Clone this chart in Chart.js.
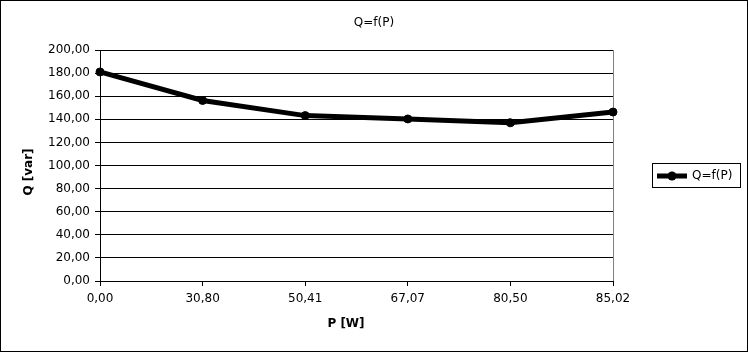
<!DOCTYPE html>
<html>
<head>
<meta charset="utf-8">
<title>Q=f(P)</title>
<script src="https://cdn.jsdelivr.net/npm/chart.js@4"></script>
<style>
    html, body { margin: 0; padding: 0; background: #ffffff; }
    #wrap { width: 748px; height: 352px; }
</style>
</head>
<body>
<div id="wrap"><canvas id="chart" width="748" height="352"></canvas></div>
<script>
// Data
const pLabels = ['0,00', '30,80', '50,41', '67,07', '80,50', '85,02'];
const qValues = [181.0, 156.3, 143.2, 140.3, 137.0, 146.3];
const seriesName = 'Q=f(P)';
const xTitle = 'P [W]';
const yTitle = 'Q [var]';

Chart.defaults.font.family = "'DejaVu Sans', sans-serif";
Chart.defaults.font.size = 12;
Chart.defaults.color = '#000000';

// Outer frame, titles and the boxed legend on the right
const framePlugin = {
    id: 'frame',
    afterDraw(chart) {
        const ctx = chart.ctx;
        ctx.save();
        ctx.strokeStyle = '#000000';
        ctx.fillStyle = '#000000';
        ctx.lineWidth = 1;
        ctx.strokeRect(0.5, 0.5, chart.width - 1, chart.height - 1);

        // chart title, centred on the whole picture
        ctx.textBaseline = 'middle';
        ctx.textAlign = 'center';
        ctx.font = "12px 'DejaVu Sans', sans-serif";
        ctx.fillText(seriesName, chart.width / 2, 23);

        // axis titles
        ctx.font = "bold 12px 'DejaVu Sans', sans-serif";
        ctx.fillText(xTitle, 346, 324);
        ctx.save();
        ctx.translate(29, 172);
        ctx.rotate(-Math.PI / 2);
        ctx.fillText(yTitle, 0, 0);
        ctx.restore();

        // legend
        ctx.strokeRect(652.5, 163.5, 88, 24);
        const ly = 176;
        ctx.lineWidth = 5;
        ctx.beginPath();
        ctx.moveTo(657, ly);
        ctx.lineTo(687, ly);
        ctx.stroke();
        ctx.beginPath();
        ctx.arc(672, ly, 4.5, 0, Math.PI * 2);
        ctx.fill();
        ctx.font = "12px 'DejaVu Sans', sans-serif";
        ctx.textAlign = 'left';
        ctx.fillText(seriesName, 692, ly);
        ctx.restore();
    }
};

function formatComma(v) {
    return Number(v).toFixed(2).replace('.', ',');
}

const ctx = document.getElementById('chart').getContext('2d');

new Chart(ctx, {
    type: 'line',
    data: {
        labels: pLabels,
        datasets: [{
            label: seriesName,
            data: qValues,
            borderColor: '#000000',
            backgroundColor: '#000000',
            borderWidth: 5,
            tension: 0,
            pointRadius: 4,
            pointBorderWidth: 1,
            pointBackgroundColor: '#000000',
            pointBorderColor: '#000000',
            clip: false
        }]
    },
    options: {
        responsive: false,
        animation: false,
        devicePixelRatio: 1,
        layout: {
            padding: { left: 0, right: 135, top: 50, bottom: 0 }
        },
        plugins: {
            legend: { display: false },
            tooltip: { enabled: false },
            title: { display: false }
        },
        scales: {
            x: {
                type: 'category',
                offset: false,
                afterFit(scale) { scale.height = 71; },
                border: { display: true, color: '#000000', width: 1 },
                grid: {
                    drawOnChartArea: true,
                    drawTicks: true,
                    tickLength: 5,
                    tickColor: '#000000',
                    color: c => (c.index === pLabels.length - 1 ? '#808080' : 'rgba(0,0,0,0)')
                },
                ticks: {
                    color: '#000000',
                    padding: 6,
                    maxRotation: 0,
                    autoSkip: false
                }
            },
            y: {
                min: 0,
                max: 200,
                afterFit(scale) { scale.width = 100; },
                border: { display: true, color: '#000000', width: 1 },
                grid: {
                    color: '#000000',
                    tickColor: '#000000',
                    tickLength: 5,
                    drawTicks: true
                },
                ticks: {
                    stepSize: 20,
                    color: '#000000',
                    padding: 5,
                    callback: v => formatComma(v)
                }
            }
        }
    },
    plugins: [framePlugin]
});
</script>
</body>
</html>
